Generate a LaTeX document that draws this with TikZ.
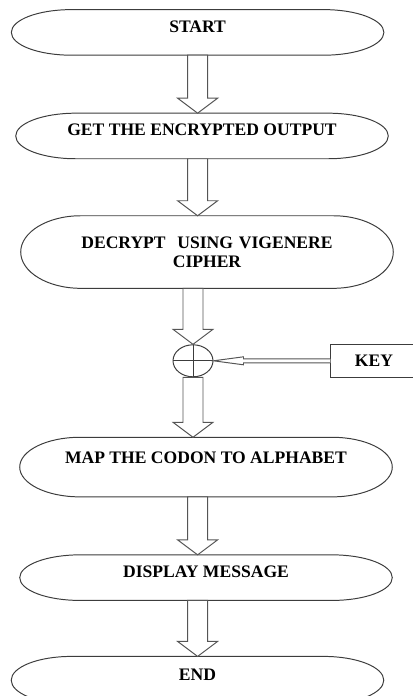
\documentclass[tikz,border=0pt]{standalone}
\usepackage{fontspec}
\setmainfont{Liberation Serif}
\usepackage{tikz}
\usetikzlibrary{shapes.geometric, positioning, calc}
\definecolor{EdgeGray}{HTML}{3C3C3C}
\definecolor{ArrowGray}{HTML}{555555}

% hollow block arrow: x and start from #1, tip at the height of #2
\newcommand{\hollowarrow}[2]{%
  \draw[blockarrow] let \p1=(#1), \p2=(#2) in
    (\x1-0.25cm,\y1) -- (\x1-0.25cm,\y2+0.375cm) -- (\x1-0.5cm,\y2+0.375cm)
    -- (\x1,\y2) -- (\x1+0.5cm,\y2+0.375cm) -- (\x1+0.25cm,\y2+0.375cm)
    -- (\x1+0.25cm,\y1) -- cycle;}

\begin{document}
\begin{tikzpicture}[
    node distance=1.45cm,
    term/.style={minimum width=9.3cm, minimum height=1.125cm,
                 font=\bfseries\fontsize{12.5}{13.5}\selectfont},
    oneline/.style={text height=8pt, text depth=8pt},
    termline/.style={draw=EdgeGray, line width=0.7pt},
    blockarrow/.style={draw=ArrowGray, line width=0.7pt, fill=white},
    xorsym/.style={ellipse, draw=EdgeGray, line width=0.7pt,
                   minimum width=1cm, minimum height=0.8cm, inner sep=0pt},
    keybox/.style={rectangle, draw=EdgeGray, line width=0.7pt,
                   minimum width=2.15cm, minimum height=0.825cm,
                   font=\bfseries\fontsize{12.5}{13.5}\selectfont}
]
    \useasboundingbox (0,0) rectangle (10.3,-17.4);

    % Flow steps
    \node[term, oneline] (start) at (4.94,-0.81) {START};
    \node[term, oneline, below=1.45cm of start, xshift=0.11cm] (get) {GET THE ENCRYPTED OUTPUT};
    \node[term, minimum height=1.8cm, text width=8cm, align=center,
          below=1.425cm of get, xshift=0.125cm] (decrypt) {DECRYPT\ \ USING VIGENERE\\CIPHER};
    \node[xorsym, below=1.4cm of decrypt, xshift=-0.35cm] (xor) {};
    \node[keybox, right=2.925cm of xor] (key) {KEY};
    \node[term, oneline, text depth=13pt, minimum height=1.475cm, below=1.5cm of xor, xshift=0.325cm] (map) {MAP THE CODON TO ALPHABET};
    \node[term, oneline, below=1.45cm of map] (display) {DISPLAY MESSAGE};
    \node[term, oneline, minimum height=1.175cm, below=1.4cm of display, xshift=-0.2125cm] (finish) {END};

    % Terminator outlines
    \foreach \nm in {start,get,decrypt,map,display,finish}
        \draw[termline] let \p1=(\nm.north west), \p2=(\nm.south east), \n1={(\y1-\y2)/2} in
            (\x1+1.5cm,\y1) -- (\x2-1.5cm,\y1)
            arc[start angle=90, end angle=-90, x radius=1.5cm, y radius=\n1]
            -- (\x1+1.5cm,\y2)
            arc[start angle=270, end angle=90, x radius=1.5cm, y radius=\n1] -- cycle;

    % XOR cross
    \draw[termline] (xor.north) -- (xor.south) (xor.west) -- (xor.east);

    % Block arrows
    \hollowarrow{start.south}{get.north}
    \hollowarrow{start.south |- get.south}{decrypt.north}
    \hollowarrow{xor.north |- decrypt.south}{xor.north}
    \hollowarrow{xor.south}{map.north}
    \hollowarrow{start.south |- map.south}{display.north}
    \hollowarrow{start.south |- display.south}{finish.north}

    % Key input
    \draw[blockarrow] let \p1=(key.west), \p2=(xor.east) in
        (\x1,\y1+0.05cm) -- (\x2+0.75cm,\y1+0.05cm) -- (\x2+0.75cm,\y1+0.1cm)
        -- (\x2,\y2) -- (\x2+0.75cm,\y1-0.1cm) -- (\x2+0.75cm,\y1-0.05cm)
        -- (\x1,\y1-0.05cm);
\end{tikzpicture}
\end{document}
